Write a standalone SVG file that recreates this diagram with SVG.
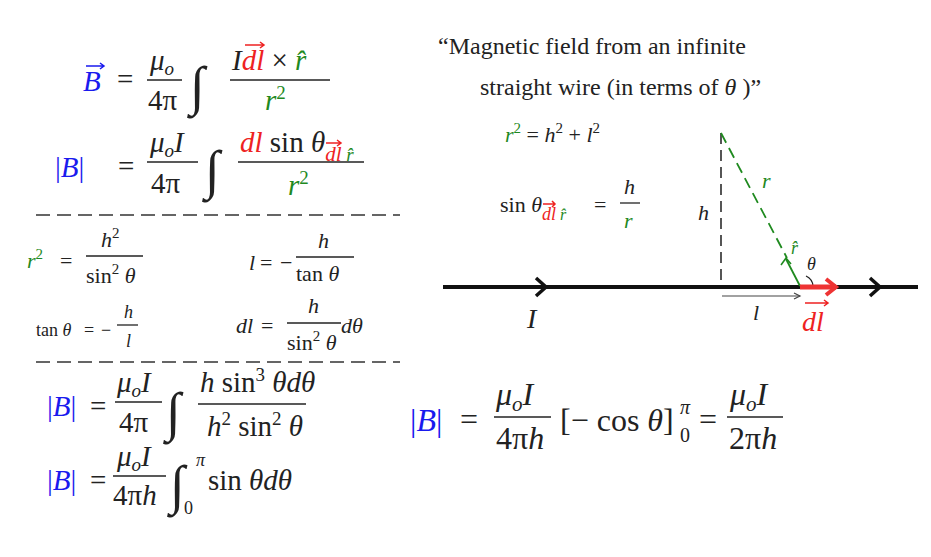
<svg xmlns="http://www.w3.org/2000/svg" width="931" height="557" viewBox="0 0 931 557" font-family="'Liberation Serif', 'Times New Roman', serif">
<style>
text{font-family:'Liberation Serif','Times New Roman',serif;fill:#222}
.i{font-style:italic}
.b{fill:#1a1aee}.g{fill:#1f8a1f}.r{fill:#ee2222}
.m{font-size:29px}.s{font-size:22px}.t{font-size:18px}
.bar{stroke:#222;stroke-width:1.3}
.title{font-size:24px;fill:#111}
.va{fill:none;stroke-width:1.5}
</style>
<rect width="931" height="557" fill="#fff"/>
<g id="eq1" class="m">
<text x="83" y="91" class="i b">B</text><path class="va" stroke="#1a1aee" d="M86,66 H104 M100,63 L104,66 L100,69"/>
<text x="117" y="89">=</text>
<text x="150" y="70" class="i">μ<tspan font-size="19" dy="5">o</tspan></text><line class="bar" x1="147" y1="80" x2="182" y2="80"/><text x="148" y="110">4π</text>
<text x="190" y="104" font-size="54" font-style="italic">∫</text>
<text x="232" y="70" class="i">I<tspan class="r">dl</tspan><tspan font-style="normal"> × </tspan><tspan class="g">r̂</tspan></text>
<path class="va" stroke="#ee2222" d="M245,45 H264 M260,42 L264,45 L260,48"/>
<line class="bar" x1="230" y1="80" x2="330" y2="80"/><text x="265" y="110" class="i g">r<tspan font-size="19" dy="-11" font-style="normal">2</tspan></text>
</g>
<g id="eq2" class="m">
<text x="55" y="177" class="b">|<tspan class="i">B</tspan>|</text><text x="118" y="176">=</text>
<text x="150" y="152" class="i">μ<tspan font-size="19" dy="5">o</tspan><tspan dy="-5">I</tspan></text><line class="bar" x1="147" y1="162" x2="198" y2="162"/><text x="151" y="193">4π</text>
<text x="205" y="188" font-size="54" font-style="italic">∫</text>
<text x="240" y="152"><tspan class="i r">dl</tspan> sin <tspan class="i">θ</tspan><tspan class="i r" font-size="21" dy="9">dl</tspan><tspan class="i g" font-size="19"> r̂</tspan></text>
<path class="va" stroke="#ee2222" d="M326,143 H341 M337,140 L341,143 L337,146"/>
<line class="bar" x1="238" y1="162" x2="364" y2="162"/><text x="288" y="195" class="i g">r<tspan font-size="19" dy="-11" font-style="normal">2</tspan></text>
</g>
<line x1="36" y1="215" x2="400" y2="215" stroke="#333" stroke-width="1.3" stroke-dasharray="14,7"/>
<line x1="36" y1="362" x2="400" y2="362" stroke="#333" stroke-width="1.3" stroke-dasharray="14,7"/>
<g id="eq3" class="s">
<text x="27" y="268" class="i g">r<tspan font-size="15" dy="-9" font-style="normal">2</tspan></text><text x="60" y="268">=</text>
<text x="101" y="247" class="i">h<tspan font-size="15" dy="-9" font-style="normal">2</tspan></text><line class="bar" x1="86" y1="256" x2="143" y2="256"/><text x="86" y="283">sin<tspan font-size="15" dy="-9">2</tspan><tspan class="i" dy="9"> θ</tspan></text>
</g>
<g id="eq4" class="s">
<text x="249" y="270" class="i">l</text><text x="260" y="270">=</text><text x="280" y="270">−</text>
<text x="318" y="248" class="i">h</text><line class="bar" x1="296" y1="257" x2="354" y2="257"/><text x="296" y="281">tan <tspan class="i">θ</tspan></text>
</g>
<g id="eq5" class="t">
<text x="36" y="336">tan <tspan class="i">θ</tspan></text><text x="84" y="336">=</text><text x="101" y="336">−</text>
<text x="124" y="318" class="i">h</text><line class="bar" x1="117" y1="325" x2="138" y2="325"/><text x="126" y="347" class="i">l</text>
</g>
<g id="eq6" class="s">
<text x="236" y="333" class="i">dl</text><text x="261" y="333">=</text>
<text x="308" y="313" class="i">h</text><line class="bar" x1="287" y1="323" x2="341" y2="323"/><text x="287" y="350">sin<tspan font-size="15" dy="-9">2</tspan><tspan class="i" dy="9"> θ</tspan></text><text x="341" y="333" class="i">dθ</text>
</g>
<g id="eq7" class="m">
<text x="47" y="416" class="b">|<tspan class="i">B</tspan>|</text><text x="90" y="416">=</text>
<text x="117" y="392" class="i">μ<tspan font-size="19" dy="5">o</tspan><tspan dy="-5">I</tspan></text><line class="bar" x1="115" y1="402" x2="162" y2="402"/><text x="119" y="432">4π</text>
<text x="166" y="430" font-size="54" font-style="italic">∫</text>
<text x="200" y="392" class="i">h <tspan font-style="normal">sin</tspan><tspan font-size="19" dy="-11" font-style="normal">3</tspan><tspan dy="11"> θdθ</tspan></text><line class="bar" x1="198" y1="404" x2="306" y2="404"/><text x="207" y="436" class="i">h<tspan font-size="19" dy="-11" font-style="normal">2</tspan><tspan dy="11" font-style="normal"> sin</tspan><tspan font-size="19" dy="-11" font-style="normal">2</tspan><tspan dy="11"> θ</tspan></text>
</g>
<g id="eq8" class="m">
<text x="47" y="490" class="b">|<tspan class="i">B</tspan>|</text><text x="90" y="490">=</text>
<text x="117" y="466" class="i">μ<tspan font-size="19" dy="5">o</tspan><tspan dy="-5">I</tspan></text><line class="bar" x1="113" y1="476" x2="166" y2="476"/><text x="113" y="505">4π<tspan class="i">h</tspan></text>
<text x="170" y="503" font-size="54" font-style="italic">∫</text><text x="196" y="466" font-size="18" class="i">π</text><text x="184" y="514" font-size="18">0</text>
<text x="208" y="490">sin <tspan class="i">θdθ</tspan></text>
</g>
<g id="eq9" font-size="32">
<text x="410" y="431" class="b">|<tspan class="i">B</tspan>|</text><text x="460" y="430">=</text>
<text x="496" y="405" class="i">μ<tspan font-size="21" dy="6">o</tspan><tspan dy="-6">I</tspan></text><line class="bar" x1="494" y1="417" x2="551" y2="417"/><text x="496" y="449">4π<tspan class="i">h</tspan></text>
<text x="560" y="431">[− cos <tspan class="i">θ</tspan>]</text><text x="680" y="414" font-size="20" class="i">π</text><text x="680" y="442" font-size="20">0</text>
<text x="699" y="430">=</text>
<text x="730" y="405" class="i">μ<tspan font-size="21" dy="6">o</tspan><tspan dy="-6">I</tspan></text><line class="bar" x1="727" y1="417" x2="783" y2="417"/><text x="729" y="449">2π<tspan class="i">h</tspan></text>
</g>
<g id="title" class="title">
<text x="438" y="54">“Magnetic field from an infinite</text>
<text x="480" y="95">straight wire (in terms of <tspan class="i">θ</tspan> )”</text>
</g>
<g id="rel1" class="s"><text x="505" y="142"><tspan class="i g">r</tspan><tspan class="g" font-size="15" dy="-9">2</tspan><tspan dy="9"> = </tspan><tspan class="i">h</tspan><tspan font-size="15" dy="-9">2</tspan><tspan dy="9"> + </tspan><tspan class="i">l</tspan><tspan font-size="15" dy="-9">2</tspan></text></g>
<g id="rel2" class="s"><text x="500" y="212">sin <tspan class="i">θ</tspan><tspan class="i r" font-size="18" dy="8">dl</tspan><tspan class="i g" font-size="16"> r̂</tspan></text>
<path class="va" stroke="#ee2222" d="M543,204 H555 M552,201 L555,204 L552,207"/>
<text x="594" y="212">=</text><text x="624" y="194" class="i">h</text><line class="bar" x1="620" y1="203" x2="640" y2="203"/><text x="624" y="228" class="i g">r</text></g>
<g id="connectors" fill="none">
<line x1="443" y1="287" x2="918" y2="287" stroke="#111" stroke-width="4"/>
<path d="M536,278 L546,287 L536,296" stroke="#111" stroke-width="3.5"/>
<path d="M870,278 L880,287 L870,296" stroke="#111" stroke-width="3.5"/>
<line x1="721" y1="133" x2="721" y2="285" stroke="#444" stroke-width="1.8" stroke-dasharray="11,6"/>
<line x1="721" y1="133" x2="787" y2="258" stroke="#1f8a1f" stroke-width="1.8" stroke-dasharray="11,6"/>
<line x1="800" y1="286" x2="786" y2="259" stroke="#1f8a1f" stroke-width="1.8"/>
<path d="M781,265 L786,258 L791,264" stroke="#1f8a1f" stroke-width="1.6"/>
<path d="M806,276 A12,12 0 0 1 813,286" stroke="#222" stroke-width="1.2"/>
<line x1="800" y1="287" x2="836" y2="287" stroke="#ee3333" stroke-width="5"/>
<path d="M826,279 L836,287 L826,295" stroke="#ee3333" stroke-width="4"/>
<line x1="722" y1="296" x2="800" y2="296" stroke="#444" stroke-width="1.2"/>
<path d="M794,293 L800,296 L794,299" stroke="#444" stroke-width="1.2"/>
<path class="va" stroke="#ee2222" d="M805,303 H828 M824,300 L828,303 L824,306"/>
</g>
<g id="labels">
<text x="762" y="188" class="s i g">r</text>
<text x="791" y="254" class="t i g">r̂</text>
<text x="807" y="270" class="t i">θ</text>
<text x="698" y="220" class="s i">h</text>
<text x="753" y="320" class="s i">l</text>
<text x="527" y="328" font-size="28" class="i">I</text>
<text x="802" y="331" font-size="28" class="i r">dl</text>
</g>
</svg>
